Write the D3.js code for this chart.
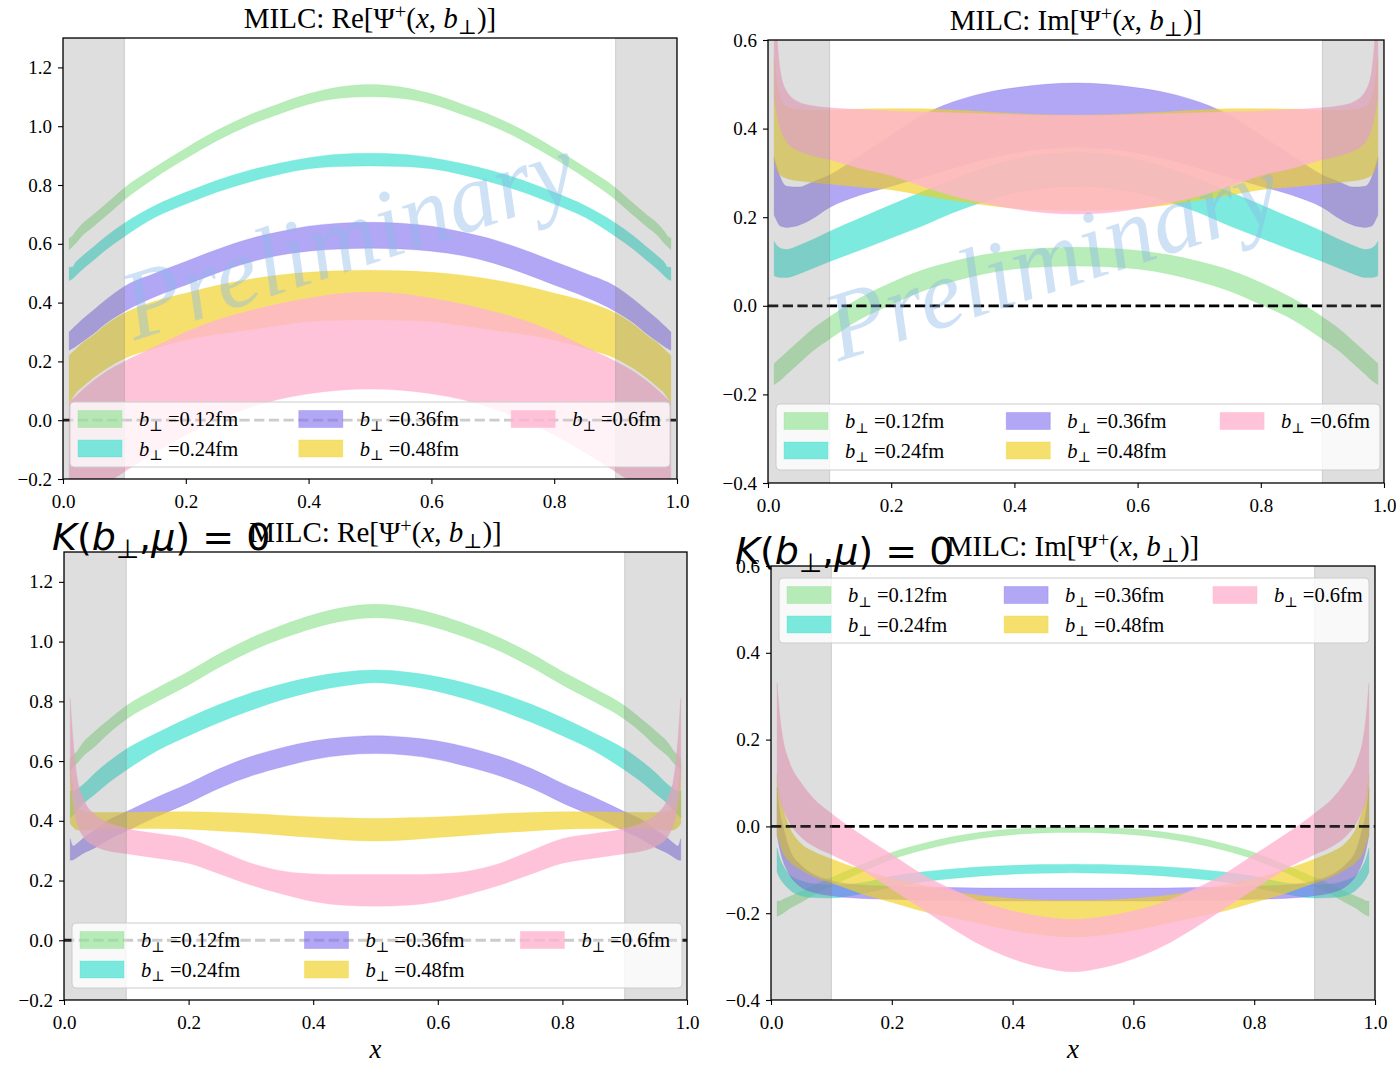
<!DOCTYPE html>
<html>
<head>
<meta charset="utf-8">
<script src="https://cdn.jsdelivr.net/npm/d3@7"></script>
<style>
  body { margin: 0; background: #ffffff; }
  svg { display: block; }
</style>
</head>
<body>
<svg id="fig" width="1396" height="1066"></svg>
<script>
// ---- momentum-fraction grid shared by every band ----
const xGrid = [0.01,0.015,0.02,0.03,0.05,0.07,0.1,0.15,0.2,0.25,0.3,0.35,0.4,0.45,0.5,0.55,0.6,0.65,0.7,0.75,0.8,0.85,0.9,0.93,0.95,0.97,0.98,0.985,0.99];

const bLabels = ["0.12", "0.24", "0.36", "0.48", "0.6"];
const xTicks = [0, 0.2, 0.4, 0.6, 0.8, 1.0];
const reTicks = [-0.2, 0, 0.2, 0.4, 0.6, 0.8, 1.0, 1.2];
const imTicks = [-0.4, -0.2, 0, 0.2, 0.4, 0.6];

// ---- Re[Psi], full kernel ----
const reGreenHi  = [0.62,0.625,0.64,0.665,0.70,0.735,0.79,0.86,0.925,0.985,1.035,1.075,1.11,1.133,1.142,1.133,1.11,1.075,1.035,0.985,0.925,0.86,0.79,0.735,0.70,0.665,0.64,0.625,0.62];
const reGreenLo  = [0.58,0.59,0.60,0.625,0.66,0.695,0.75,0.825,0.89,0.95,1.0,1.04,1.075,1.095,1.10,1.095,1.075,1.04,1.0,0.95,0.89,0.825,0.75,0.695,0.66,0.625,0.60,0.59,0.58];
const reCyanHi   = [0.52,0.52,0.535,0.555,0.59,0.625,0.67,0.73,0.775,0.815,0.848,0.873,0.893,0.905,0.908,0.905,0.893,0.873,0.848,0.815,0.775,0.73,0.67,0.625,0.59,0.555,0.535,0.52,0.52];
const reCyanLo   = [0.475,0.48,0.49,0.51,0.545,0.58,0.625,0.69,0.735,0.775,0.808,0.835,0.855,0.863,0.865,0.863,0.855,0.835,0.808,0.775,0.735,0.69,0.625,0.58,0.545,0.51,0.49,0.48,0.475];
const rePurpleHi = [0.30,0.31,0.32,0.34,0.375,0.41,0.455,0.50,0.54,0.58,0.615,0.64,0.66,0.67,0.673,0.67,0.66,0.64,0.615,0.58,0.54,0.50,0.455,0.41,0.375,0.34,0.32,0.31,0.30];
const rePurpleLo = [0.238,0.244,0.25,0.265,0.295,0.33,0.37,0.42,0.46,0.50,0.535,0.56,0.575,0.582,0.585,0.582,0.575,0.56,0.535,0.50,0.46,0.42,0.37,0.33,0.295,0.265,0.25,0.244,0.238];
const reYellowHi = [0.22,0.23,0.24,0.26,0.29,0.325,0.364,0.405,0.432,0.458,0.478,0.493,0.503,0.508,0.51,0.508,0.503,0.493,0.478,0.458,0.432,0.405,0.364,0.325,0.29,0.26,0.24,0.23,0.22];
const reYellowLo = [0.06,0.075,0.09,0.11,0.145,0.175,0.21,0.245,0.273,0.292,0.307,0.322,0.336,0.34,0.341,0.34,0.336,0.322,0.307,0.292,0.273,0.245,0.21,0.175,0.145,0.11,0.09,0.075,0.06];
const rePinkHi   = [0.057,0.07,0.08,0.10,0.135,0.165,0.20,0.25,0.30,0.34,0.37,0.395,0.415,0.43,0.435,0.43,0.415,0.395,0.37,0.34,0.30,0.25,0.20,0.165,0.135,0.10,0.08,0.07,0.057];
const rePinkLo   = [-0.33,-0.32,-0.31,-0.28,-0.24,-0.215,-0.175,-0.11,-0.05,0.0,0.04,0.07,0.09,0.102,0.106,0.102,0.09,0.07,0.04,0.0,-0.05,-0.11,-0.175,-0.215,-0.24,-0.28,-0.31,-0.32,-0.33];

// ---- Im[Psi], full kernel ----
const imGreenHi  = [-0.13,-0.124,-0.118,-0.105,-0.08,-0.055,-0.025,0.018,0.052,0.08,0.10,0.115,0.125,0.13,0.132,0.13,0.125,0.115,0.10,0.08,0.052,0.018,-0.025,-0.055,-0.08,-0.105,-0.118,-0.124,-0.13];
const imGreenLo  = [-0.178,-0.173,-0.168,-0.155,-0.13,-0.105,-0.075,-0.03,0.003,0.033,0.055,0.072,0.083,0.088,0.09,0.088,0.083,0.072,0.055,0.033,0.003,-0.03,-0.075,-0.105,-0.13,-0.155,-0.168,-0.173,-0.178];
const imCyanHi   = [0.145,0.135,0.13,0.127,0.136,0.148,0.168,0.198,0.228,0.257,0.285,0.31,0.33,0.342,0.346,0.342,0.33,0.31,0.285,0.257,0.228,0.198,0.168,0.148,0.136,0.127,0.13,0.135,0.145];
const imCyanLo   = [0.068,0.065,0.064,0.064,0.072,0.083,0.10,0.126,0.153,0.18,0.21,0.235,0.255,0.266,0.27,0.266,0.255,0.235,0.21,0.18,0.153,0.126,0.10,0.083,0.072,0.064,0.064,0.065,0.068];
const imPurpleHi = [0.335,0.31,0.29,0.27,0.268,0.278,0.295,0.34,0.385,0.43,0.46,0.48,0.492,0.5,0.503,0.5,0.492,0.48,0.46,0.43,0.385,0.34,0.295,0.278,0.268,0.27,0.29,0.31,0.335];
const imPurpleLo = [0.205,0.19,0.18,0.177,0.182,0.195,0.222,0.25,0.27,0.29,0.31,0.33,0.345,0.355,0.358,0.355,0.345,0.33,0.31,0.29,0.27,0.25,0.222,0.195,0.182,0.177,0.18,0.19,0.205];
const imYellowHi = [0.56,0.50,0.47,0.45,0.443,0.441,0.441,0.444,0.445,0.445,0.442,0.438,0.434,0.431,0.43,0.431,0.434,0.438,0.442,0.445,0.445,0.444,0.441,0.441,0.443,0.45,0.47,0.50,0.56];
const imYellowLo = [0.33,0.305,0.295,0.288,0.282,0.279,0.275,0.268,0.262,0.25,0.238,0.228,0.22,0.216,0.215,0.216,0.22,0.228,0.238,0.25,0.262,0.268,0.275,0.279,0.282,0.288,0.295,0.305,0.33];
const imPinkHi   = [0.72,0.60,0.53,0.485,0.46,0.452,0.447,0.443,0.44,0.438,0.436,0.434,0.432,0.43,0.43,0.43,0.432,0.434,0.436,0.438,0.44,0.443,0.447,0.452,0.46,0.485,0.53,0.60,0.72];
const imPinkLo   = [0.47,0.43,0.40,0.37,0.35,0.34,0.33,0.31,0.294,0.27,0.248,0.232,0.219,0.21,0.207,0.21,0.219,0.232,0.248,0.27,0.294,0.31,0.33,0.34,0.35,0.37,0.40,0.43,0.47];

// ---- Re[Psi], K(b,mu) = 0 ----
const reKGreenHi  = [0.61,0.62,0.63,0.66,0.70,0.735,0.785,0.845,0.90,0.96,1.012,1.055,1.09,1.115,1.125,1.115,1.09,1.055,1.012,0.96,0.90,0.845,0.785,0.735,0.70,0.66,0.63,0.62,0.61];
const reKGreenLo  = [0.57,0.58,0.59,0.615,0.65,0.69,0.74,0.80,0.855,0.915,0.968,1.01,1.045,1.07,1.08,1.07,1.045,1.01,0.968,0.915,0.855,0.80,0.74,0.69,0.65,0.615,0.59,0.58,0.57];
const reKCyanHi   = [0.50,0.50,0.505,0.52,0.56,0.595,0.64,0.695,0.745,0.79,0.828,0.858,0.882,0.898,0.905,0.898,0.882,0.858,0.828,0.79,0.745,0.695,0.64,0.595,0.56,0.52,0.505,0.50,0.50];
const reKCyanLo   = [0.41,0.42,0.43,0.455,0.49,0.525,0.57,0.635,0.685,0.73,0.77,0.805,0.833,0.852,0.862,0.852,0.833,0.805,0.77,0.73,0.685,0.635,0.57,0.525,0.49,0.455,0.43,0.42,0.41];
const reKPurpleHi = [0.34,0.315,0.322,0.34,0.37,0.40,0.43,0.48,0.525,0.575,0.615,0.645,0.667,0.68,0.685,0.68,0.667,0.645,0.615,0.575,0.525,0.48,0.43,0.40,0.37,0.34,0.322,0.315,0.34];
const reKPurpleLo = [0.268,0.27,0.276,0.29,0.31,0.335,0.365,0.415,0.46,0.51,0.55,0.58,0.605,0.62,0.625,0.62,0.605,0.58,0.55,0.51,0.46,0.415,0.365,0.335,0.31,0.29,0.276,0.27,0.268];
const reKYellowHi = [0.59,0.50,0.455,0.432,0.428,0.428,0.428,0.43,0.43,0.428,0.424,0.418,0.413,0.41,0.408,0.41,0.413,0.418,0.424,0.428,0.43,0.43,0.428,0.428,0.428,0.432,0.455,0.50,0.59];
const reKYellowLo = [0.39,0.378,0.37,0.368,0.372,0.374,0.374,0.374,0.372,0.366,0.36,0.352,0.344,0.336,0.332,0.336,0.344,0.352,0.36,0.366,0.372,0.374,0.374,0.374,0.372,0.368,0.37,0.378,0.39];
const reKPinkHi   = [0.81,0.66,0.56,0.48,0.42,0.395,0.374,0.357,0.34,0.30,0.258,0.232,0.222,0.22,0.22,0.22,0.222,0.232,0.258,0.30,0.34,0.357,0.374,0.395,0.42,0.48,0.56,0.66,0.81];
const reKPinkLo   = [0.55,0.45,0.40,0.35,0.315,0.30,0.29,0.275,0.258,0.222,0.185,0.155,0.13,0.117,0.114,0.117,0.13,0.155,0.185,0.222,0.258,0.275,0.29,0.30,0.315,0.35,0.40,0.45,0.55];

// ---- Im[Psi], K(b,mu) = 0 ----
const imKGreenHi  = [-0.172,-0.172,-0.168,-0.162,-0.15,-0.136,-0.118,-0.088,-0.06,-0.04,-0.024,-0.013,-0.006,-0.003,-0.002,-0.003,-0.006,-0.013,-0.024,-0.04,-0.06,-0.088,-0.118,-0.136,-0.15,-0.162,-0.168,-0.172,-0.172];
const imKGreenLo  = [-0.207,-0.204,-0.2,-0.19,-0.175,-0.158,-0.138,-0.105,-0.076,-0.055,-0.039,-0.027,-0.019,-0.015,-0.014,-0.015,-0.019,-0.027,-0.039,-0.055,-0.076,-0.105,-0.138,-0.158,-0.175,-0.19,-0.2,-0.204,-0.207];
const imKCyanHi   = [-0.05,-0.075,-0.09,-0.11,-0.125,-0.132,-0.135,-0.13,-0.115,-0.105,-0.098,-0.093,-0.09,-0.088,-0.087,-0.088,-0.09,-0.093,-0.098,-0.105,-0.115,-0.13,-0.135,-0.132,-0.125,-0.11,-0.09,-0.075,-0.05];
const imKCyanLo   = [-0.105,-0.12,-0.13,-0.145,-0.16,-0.164,-0.165,-0.155,-0.14,-0.128,-0.12,-0.114,-0.11,-0.108,-0.107,-0.108,-0.11,-0.114,-0.12,-0.128,-0.14,-0.155,-0.165,-0.164,-0.16,-0.145,-0.13,-0.12,-0.105];
const imKPurpleHi = [0.09,0.03,0.0,-0.05,-0.09,-0.11,-0.125,-0.135,-0.138,-0.14,-0.141,-0.142,-0.142,-0.142,-0.142,-0.142,-0.142,-0.142,-0.141,-0.14,-0.138,-0.135,-0.125,-0.11,-0.09,-0.05,0.0,0.03,0.09];
const imKPurpleLo = [-0.02,-0.055,-0.08,-0.11,-0.14,-0.152,-0.16,-0.166,-0.168,-0.17,-0.171,-0.172,-0.172,-0.172,-0.172,-0.172,-0.172,-0.172,-0.171,-0.17,-0.168,-0.166,-0.16,-0.152,-0.14,-0.11,-0.08,-0.055,-0.02];
const imKYellowHi = [0.12,0.07,0.04,0.0,-0.04,-0.058,-0.075,-0.10,-0.12,-0.135,-0.15,-0.16,-0.166,-0.17,-0.171,-0.17,-0.166,-0.16,-0.15,-0.135,-0.12,-0.10,-0.075,-0.058,-0.04,0.0,0.04,0.07,0.12];
const imKYellowLo = [-0.02,-0.04,-0.06,-0.08,-0.10,-0.115,-0.13,-0.155,-0.175,-0.195,-0.21,-0.225,-0.24,-0.25,-0.255,-0.25,-0.24,-0.225,-0.21,-0.195,-0.175,-0.155,-0.13,-0.115,-0.10,-0.08,-0.06,-0.04,-0.02];
const imKPinkHi   = [0.33,0.25,0.20,0.15,0.10,0.065,0.03,-0.02,-0.065,-0.11,-0.145,-0.175,-0.195,-0.208,-0.214,-0.208,-0.195,-0.175,-0.145,-0.11,-0.065,-0.02,0.03,0.065,0.10,0.15,0.20,0.25,0.33];
const imKPinkLo   = [0.10,0.06,0.04,0.01,-0.025,-0.045,-0.065,-0.10,-0.145,-0.19,-0.235,-0.275,-0.305,-0.325,-0.335,-0.325,-0.305,-0.275,-0.235,-0.19,-0.145,-0.10,-0.065,-0.045,-0.025,0.01,0.04,0.06,0.10];

// ---- band styles, one per transverse separation ----
const bandStyles = [
  { color: "#88e088", opacity: 0.6 },
  { color: "#40e0d0", opacity: 0.68 },
  { color: "#7b68ee", opacity: 0.58 },
  { color: "#f0d020", opacity: 0.65 },
  { color: "#ffb4cf", opacity: 0.8 }
];

const panels = [
  { id: "p1", part: "Re", box: { l: 63, t: 38, r: 677, b: 479 }, yDomain: [-0.2, 1.3], yTicks: reTicks,
    bands: [[reGreenLo, reGreenHi], [reCyanLo, reCyanHi], [rePurpleLo, rePurpleHi], [reYellowLo, reYellowHi], [rePinkLo, rePinkHi]],
    legend: { x: 70, y: 402, w: 600, h: 65 }, watermark: { x: 358, y: 268 }, kLabel: null, xLabel: false },
  { id: "p2", part: "Im", box: { l: 768, t: 40, r: 1384, b: 483 }, yDomain: [-0.4, 0.6], yTicks: imTicks,
    bands: [[imGreenLo, imGreenHi], [imCyanLo, imCyanHi], [imPurpleLo, imPurpleHi], [imYellowLo, imYellowHi], [imPinkLo, imPinkHi]],
    legend: { x: 776, y: 404, w: 604, h: 66 }, watermark: { x: 1062, y: 289 }, kLabel: null, xLabel: false },
  { id: "p3", part: "Re", box: { l: 64, t: 552, r: 687, b: 1000 }, yDomain: [-0.2, 1.3], yTicks: reTicks,
    bands: [[reKGreenLo, reKGreenHi], [reKCyanLo, reKCyanHi], [reKPurpleLo, reKPurpleHi], [reKYellowLo, reKYellowHi], [reKPinkLo, reKPinkHi]],
    legend: { x: 72, y: 923, w: 610, h: 65 }, watermark: null, kLabel: { x: 52, y: 550 }, xLabel: true },
  { id: "p4", part: "Im", box: { l: 771, t: 566, r: 1375, b: 1000 }, yDomain: [-0.4, 0.6], yTicks: imTicks,
    bands: [[imKGreenLo, imKGreenHi], [imKCyanLo, imKCyanHi], [imKPurpleLo, imKPurpleHi], [imKYellowLo, imKYellowHi], [imKPinkLo, imKPinkHi]],
    legend: { x: 779, y: 578, w: 590, h: 65 }, watermark: null, kLabel: { x: 735, y: 564 }, xLabel: true }
];

const SERIF = "'Liberation Serif', 'DejaVu Serif', serif";
const SANS = "'DejaVu Sans', sans-serif";
const fmt = d3.format(".1f");

const svg = d3.select("#fig");
svg.append("rect").attr("width", 1396).attr("height", 1066).attr("fill", "#ffffff");

// write a run of text pieces with italic / sub / superscript parts
function mathText(textSel, parts, size) {
  let off = 0;
  parts.forEach(p => {
    const ts = textSel.append("tspan").text(p.t);
    let want = 0;
    if (p.sub) { want = size * 0.22; ts.attr("font-size", size * 0.7); }
    if (p.sup) { want = -size * 0.3; ts.attr("font-size", size * 0.7); }
    if (want - off !== 0) ts.attr("dy", want - off);
    off = want;
    if (p.it) ts.attr("font-style", "italic");
  });
}

panels.forEach(cfg => {
  const { l, t, r, b } = cfg.box;
  const x = d3.scaleLinear().domain([0, 1]).range([l, r]);
  const y = d3.scaleLinear().domain(cfg.yDomain).range([b, t]);
  const g = svg.append("g").attr("id", cfg.id);

  g.append("clipPath").attr("id", "clip-" + cfg.id)
    .append("rect").attr("x", l).attr("y", t).attr("width", r - l).attr("height", b - t);
  const plot = g.append("g").attr("clip-path", `url(#clip-${cfg.id})`);

  // uncertainty bands
  cfg.bands.forEach((pair, i) => {
    const [lo, hi] = pair;
    const pts = xGrid.map((xv, k) => ({ x: xv, lo: lo[k], hi: hi[k] }));
    const area = d3.area()
      .x(d => x(d.x)).y0(d => y(d.lo)).y1(d => y(d.hi))
      .curve(d3.curveMonotoneX);
    plot.append("path").datum(pts)
      .attr("d", area)
      .attr("fill", bandStyles[i].color)
      .attr("fill-opacity", bandStyles[i].opacity)
      .attr("stroke", bandStyles[i].color)
      .attr("stroke-opacity", bandStyles[i].opacity * 0.5)
      .attr("stroke-width", 0.8);
  });

  // zero reference line
  plot.append("line")
    .attr("x1", l).attr("x2", r).attr("y1", y(0)).attr("y2", y(0))
    .attr("stroke", "#000").attr("stroke-width", 2.8).attr("stroke-dasharray", "10.3 4.4");

  // excluded end-point regions
  [[0, 0.1], [0.9, 1.0]].forEach(([a, c]) => {
    plot.append("rect")
      .attr("x", x(a)).attr("width", x(c) - x(a))
      .attr("y", t).attr("height", b - t)
      .attr("fill", "#808080").attr("fill-opacity", 0.26)
      .attr("stroke", "#808080").attr("stroke-opacity", 0.3).attr("stroke-width", 1);
  });

  // watermark
  if (cfg.watermark) {
    g.append("text")
      .attr("transform", `translate(${cfg.watermark.x},${cfg.watermark.y}) rotate(-18)`)
      .attr("text-anchor", "middle")
      .attr("font-family", SERIF).attr("font-style", "italic")
      .attr("font-size", 98)
      .attr("fill", "#8ab8e6").attr("fill-opacity", 0.42)
      .text("Preliminary");
  }

  // axes
  const xAxis = d3.axisBottom(x).tickValues(xTicks).tickFormat(fmt).tickSize(5).tickPadding(6);
  const yAxis = d3.axisLeft(y).tickValues(cfg.yTicks).tickFormat(fmt).tickSize(5).tickPadding(6);
  const gx = g.append("g").attr("transform", `translate(0,${b})`).call(xAxis);
  const gy = g.append("g").attr("transform", `translate(${l},0)`).call(yAxis);
  [gx, gy].forEach(ax => {
    ax.select(".domain").remove();
    ax.selectAll(".tick line").attr("stroke", "#000").attr("stroke-width", 1.1);
    ax.selectAll(".tick text").attr("font-family", SERIF).attr("font-size", 19).attr("fill", "#000");
  });
  gx.selectAll(".tick text").attr("dy", "0.95em");

  // frame
  g.append("rect").attr("x", l).attr("y", t).attr("width", r - l).attr("height", b - t)
    .attr("fill", "none").attr("stroke", "#000").attr("stroke-width", 1.3);

  // title
  const title = g.append("text")
    .attr("x", (l + r) / 2).attr("y", t - 10)
    .attr("text-anchor", "middle")
    .attr("font-family", SERIF).attr("font-size", 29).attr("fill", "#000");
  mathText(title, [
    { t: "MILC: " + cfg.part + "[Ψ" }, { t: "+", sup: true }, { t: "(" }, { t: "x", it: true },
    { t: ", " }, { t: "b", it: true }, { t: "⊥", sub: true }, { t: ")]" }
  ], 29);

  // x label
  if (cfg.xLabel) {
    g.append("text").attr("x", (l + r) / 2).attr("y", b + 58)
      .attr("text-anchor", "middle")
      .attr("font-family", SERIF).attr("font-style", "italic").attr("font-size", 27)
      .text("x");
  }

  // legend
  const L = cfg.legend;
  const lg = g.append("g");
  lg.append("rect").attr("x", L.x).attr("y", L.y).attr("width", L.w).attr("height", L.h)
    .attr("rx", 4).attr("fill", "#ffffff").attr("fill-opacity", 0.8)
    .attr("stroke", "#cccccc").attr("stroke-width", 1);
  const colFrac = [0, 0.368, 0.722];
  bLabels.forEach((lab, i) => {
    const col = Math.floor(i / 2), row = i % 2;
    const px = L.x + 8 + colFrac[col] * L.w;
    const cy = L.y + 17 + row * 29.5;
    lg.append("rect").attr("x", px).attr("y", cy - 8.5).attr("width", 44).attr("height", 17)
      .attr("fill", bandStyles[i].color).attr("fill-opacity", bandStyles[i].opacity)
      .attr("stroke", bandStyles[i].color).attr("stroke-opacity", bandStyles[i].opacity * 0.5);
    const tx = lg.append("text").attr("x", px + 61).attr("y", cy + 7)
      .attr("font-family", SERIF).attr("font-size", 20.5).attr("fill", "#000");
    mathText(tx, [{ t: "b", it: true }, { t: "⊥", sub: true }, { t: " =" + lab + "fm" }], 20.5);
  });

  // kernel annotation
  if (cfg.kLabel) {
    const kt = g.append("text").attr("x", cfg.kLabel.x).attr("y", cfg.kLabel.y)
      .attr("font-family", SANS).attr("font-size", 38).attr("fill", "#000");
    mathText(kt, [
      { t: "K", it: true }, { t: "(" }, { t: "b", it: true }, { t: "⊥", sub: true },
      { t: "," }, { t: "μ", it: true }, { t: ")" }, { t: " = 0" }
    ], 38);
  }
});
</script>
</body>
</html>
